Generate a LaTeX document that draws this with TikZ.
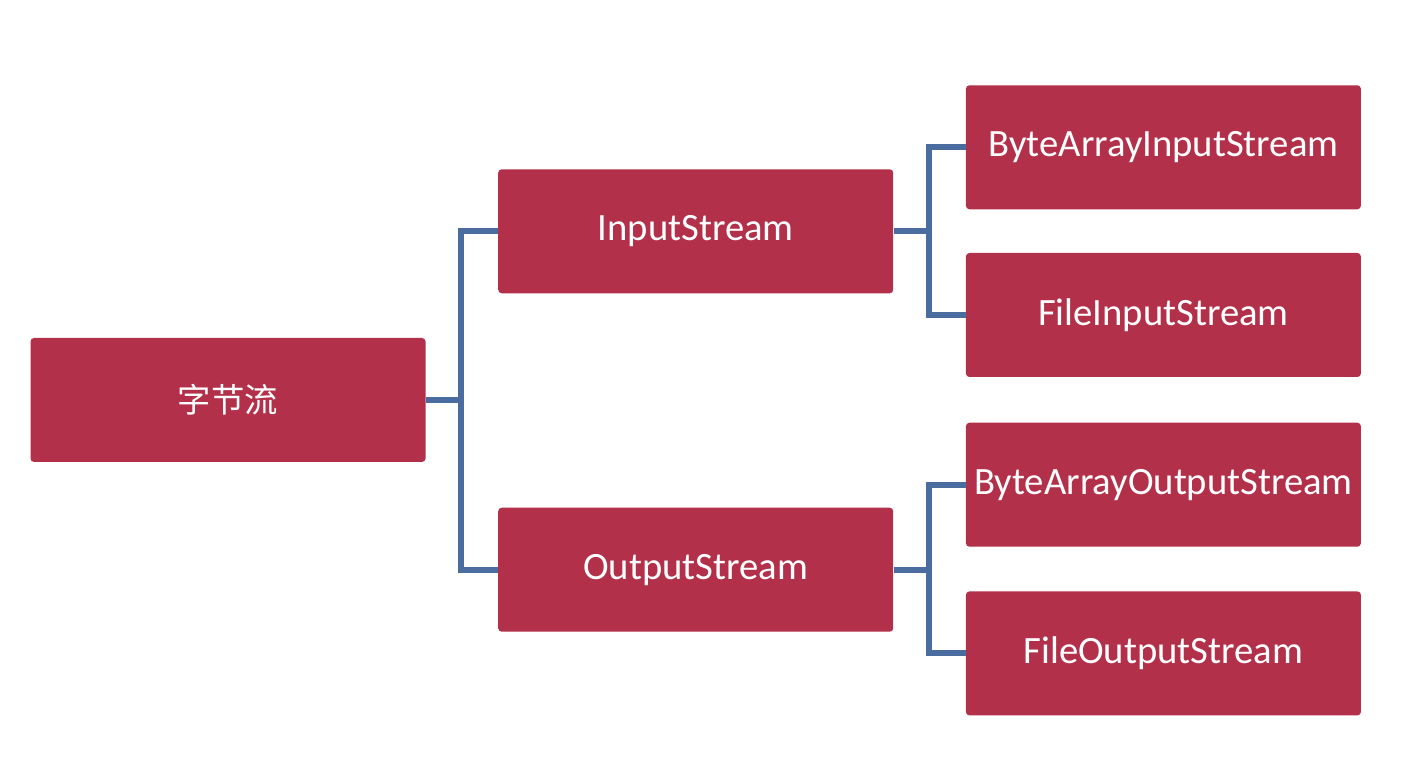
\documentclass[tikz,border=0pt]{standalone}
\usepackage{fontspec}
\setmainfont{Carlito}
\newfontfamily\cjk{Noto Sans CJK SC}
\usetikzlibrary{positioning}

\definecolor{boxred}{HTML}{B3304A}
\definecolor{linkblue}{HTML}{4A6C9E}

\begin{document}
\begin{tikzpicture}[
    cls/.style={fill=boxred, rounded corners=2pt, minimum width=7.9cm,
                minimum height=2.48cm, align=center, text=white,
                font=\fontsize{22}{26}\selectfont},
    link/.style={draw=linkblue, line width=3.4pt}
]
    \useasboundingbox[fill=white] (0,0) rectangle (28.12,-15.28);

    \node[cls] (root) at (4.56,-8.0) {\cjk\fontsize{19}{22}\selectfont 字节流};
    \node[cls, above right=0.88cm and 1.44cm of root] (in) {InputStream};
    \node[cls, below right=0.9cm and 1.44cm of root] (out) {OutputStream};

    \node[cls, right=1.44cm of in, yshift=1.68cm] (bain) {ByteArrayInputStream};
    \node[cls, below=0.86cm of bain] (filein) {FileInputStream};
    \node[cls, below=0.9cm of filein] (baout) {ByteArrayOutputStream};
    \node[cls, below=0.88cm of baout] (fileout) {FileOutputStream};

    % branch points
    \coordinate (rj) at ([xshift=0.7cm]root.east);
    \coordinate (ij) at ([xshift=0.7cm]in.east);
    \coordinate (oj) at ([xshift=0.7cm]out.east);

    \draw[link] (root.east) -- (rj);
    \draw[link] (rj) |- (in.west);
    \draw[link] (rj) |- (out.west);
    \draw[link] (in.east) -- (ij);
    \draw[link] (ij) |- (bain.west);
    \draw[link] (ij) |- (filein.west);
    \draw[link] (out.east) -- (oj);
    \draw[link] (oj) |- (baout.west);
    \draw[link] (oj) |- (fileout.west);
\end{tikzpicture}
\end{document}
